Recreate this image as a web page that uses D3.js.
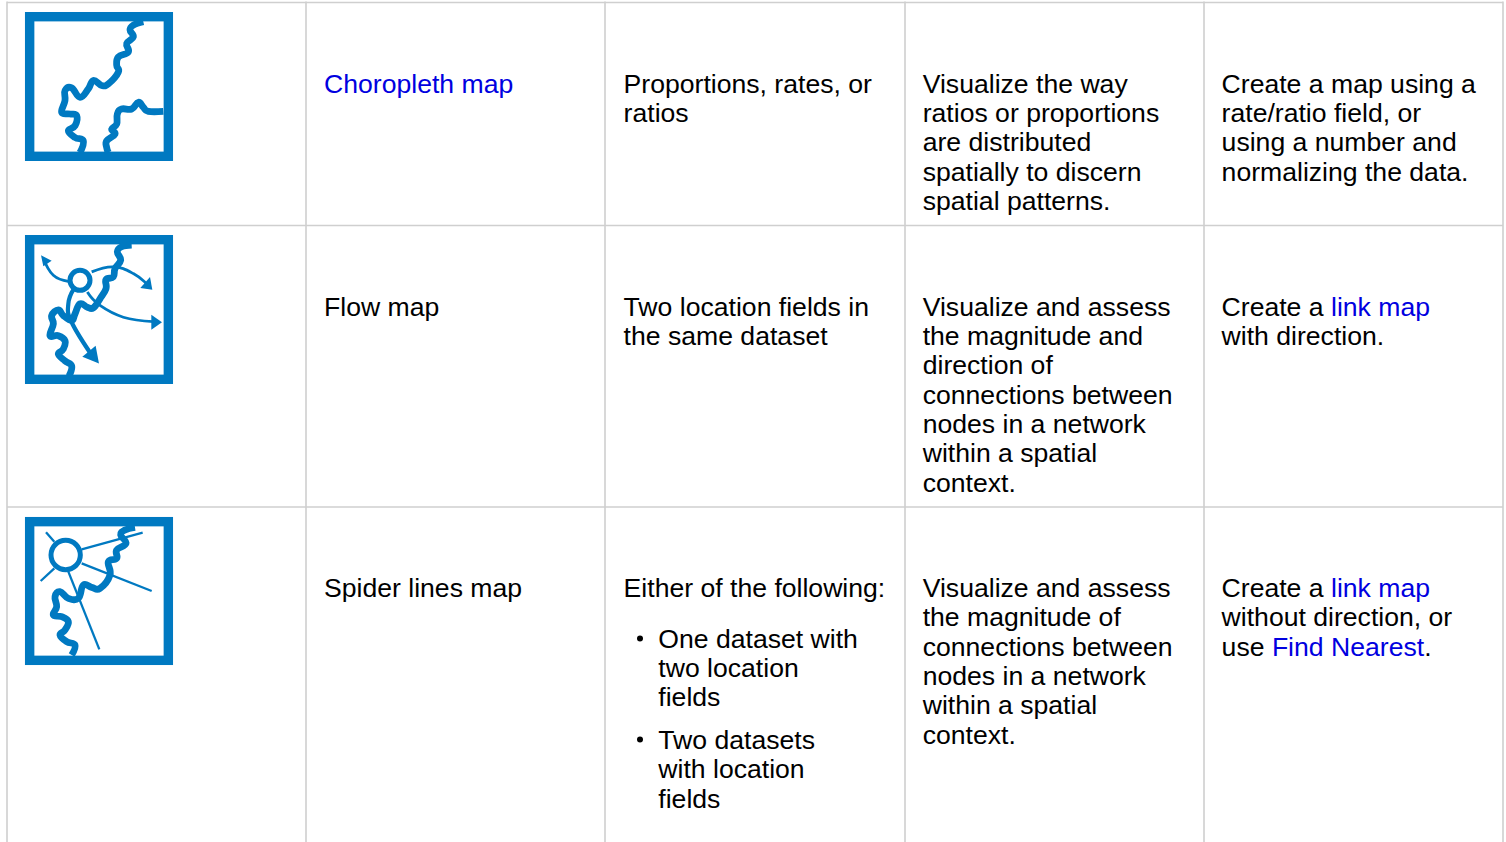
<!DOCTYPE html>
<html><head><meta charset="utf-8">
<script src="https://cdn.jsdelivr.net/npm/d3@7/dist/d3.min.js"></script>
<style>html,body{margin:0;padding:0;background:#fff;overflow:hidden}svg{display:block}text{font-family:"Liberation Sans",Arial,sans-serif;font-size:26.6px;fill:#000}</style>
</head><body><script>
// text content: each row is a list of columns, each a list of lines, each a list of [text, isLink]
const col1 = [
  [[["Choropleth map",1]]],
  [[["Flow map",0]]],
  [[["Spider lines map",0]]]
];
const col2 = [
  [[["Proportions, rates, or",0]],[["ratios",0]]],
  [[["Two location fields in",0]],[["the same dataset",0]]],
  [[["Either of the following:",0]]]
];
const col3 = [
  ["Visualize the way","ratios or proportions","are distributed","spatially to discern","spatial patterns."],
  ["Visualize and assess","the magnitude and","direction of","connections between","nodes in a network","within a spatial","context."],
  ["Visualize and assess","the magnitude of","connections between","nodes in a network","within a spatial","context."]
].map(r=>r.map(l=>[[l,0]]));
const col4 = [
  [[["Create a map using a",0]],[["rate/ratio field, or",0]],[["using a number and",0]],[["normalizing the data.",0]]],
  [[["Create a ",0],["link map",1]],[["with direction.",0]]],
  [[["Create a ",0],["link map",1]],[["without direction, or",0]],[["use ",0],["Find Nearest",1],[".",0]]]
];
const listItems = [["One dataset with","two location","fields"],["Two datasets","with location","fields"]];
const columns = [col1,col2,col3,col4];

// layout
const colEdges = [7,306,605,905,1204,1503];
const textX = [324,623.6,922.7,1221.6];
const rowEdges = [2.5,225.5,507,842];
const rowBaselines = [92.85,315.85,597.1];
const listBaselines = [647.7,749.1];
const lineHeight = 29.3, listX = 658.3, bulletX = 640;

// icons, in a 444-unit icon grid
const river1a = [[355,29],[325,39],[315,54],[325,74],[305,94],[310,119],[280,134],[275,159],[280,179],[250,214],[230,219],[205,204],[190,229],[165,254],[140,226],[120,234],[120,264],[110,299],[135,304],[155,309],[150,339],[130,354],[150,374],[175,384],[165,419]];
const river1b = [[415,296],[370,296],[355,284],[340,269],[320,289],[290,289],[277,304],[275,334],[260,349],[270,364],[245,384],[245,404],[250,419]];
const river2 = [[320,30],[290,35],[277,50],[287,75],[270,100],[265,125],[243,133],[243,160],[225,190],[205,217],[187,215],[165,205],[150,235],[140,255],[115,240],[100,223],[80,240],[85,265],[75,300],[100,300],[120,315],[115,340],[100,355],[120,375],[140,390],[132,420]];
const flows2 = [
  [[130,138],[85,120],[55,70]],
  [[200,110],[265,95],[325,115],[372,152]],
  [[187,170],[225,210],[295,245],[385,258]]
];
const mainFlow2 = [[147,160],[130,205],[140,260],[205,365]];
const heads2 = [
  [[48,60],[80,77],[55,93]],
  [[382,163],[346,158],[375,125]],
  [[411,260],[379,238],[379,282]],
  [[222,383],[172,363],[212,330]]
];
const node2 = {c:[165,135], r:30};
const river3 = [[330,31],[300,39],[287,54],[303,79],[275,99],[275,124],[250,134],[255,174],[225,214],[200,211],[175,204],[160,244],[130,244],[105,224],[90,239],[95,269],[85,294],[110,299],[130,314],[120,339],[105,354],[125,374],[150,384],[140,414]];
const rays3 = [
  [[88,74],[63,46]],
  [[170,97],[353,47]],
  [[170,139],[380,222]],
  [[130,164],[223,397]],
  [[88,154],[47,192]]
];
const node3 = {c:[122,114], r:44};
const iconTops = [12,235,517];
const iconHeights = [149,149,148];

const svg = d3.select("body").append("svg").attr("width",1506).attr("height",842);
const BLUE="#0079c1", GRID="#cfcfcf", LINK="#0000e0";
svg.append("defs").append("filter").attr("id","soft").attr("x","-5%").attr("y","-5%").attr("width","110%").attr("height","110%")
  .append("feGaussianBlur").attr("stdDeviation",0.45);

svg.append("g").selectAll("line").data(colEdges).join("line")
  .attr("x1",d=>d).attr("x2",d=>d).attr("y1",rowEdges[0]-1).attr("y2",842)
  .attr("stroke",GRID).attr("stroke-width",1.6);
svg.append("g").selectAll("line").data(rowEdges.slice(0,3)).join("line")
  .attr("x1",colEdges[0]).attr("x2",colEdges[5]).attr("y1",d=>d).attr("y2",d=>d)
  .attr("stroke",GRID).attr("stroke-width",1.6);

function putLine(g,segs,x,y){
  const t=g.append("text").attr("x",x).attr("y",y).attr("xml:space","preserve");
  t.selectAll("tspan").data(segs).join("tspan").style("white-space","pre").style("fill",d=>d[1]?LINK:"#000").text(d=>d[0]);
}
const tg=svg.append("g");
columns.forEach((col,c)=>col.forEach((cell,r)=>cell.forEach((line,i)=>
  putLine(tg,line,textX[c],rowBaselines[r]+i*lineHeight))));
listItems.forEach((item,k)=>{
  tg.append("circle").attr("cx",bulletX).attr("cy",Math.round(listBaselines[k])-9.5).attr("r",3).attr("fill","#000");
  item.forEach((l,i)=>putLine(tg,[[l,0]],listX,listBaselines[k]+i*lineHeight));
});

const sx=d3.scaleLinear().domain([0,444]).range([25,173]);
function icon(idx,build){
  const sy=d3.scaleLinear().domain([0,444]).range([0,iconHeights[idx]]);
  const curve=d3.line().x(d=>sx(d[0])).y(d=>sy(d[1])).curve(d3.curveCardinal.tension(-0.25));
  const poly=d3.line().x(d=>sx(d[0])).y(d=>sy(d[1])).curve(d3.curveLinearClosed);
  const g=svg.append("g").attr("transform",`translate(0,${iconTops[idx]})`).attr("filter","url(#soft)");
  g.append("rect").attr("x",sx(14)).attr("y",sy(14)).attr("width",sx(430)-sx(14)).attr("height",sy(430)-sy(14))
    .attr("fill","#fff").attr("stroke",BLUE).attr("stroke-width",9.4);
  build({
    g,
    stroke:(pts,w)=>g.append("path").attr("d",curve(pts)).attr("fill","none").attr("stroke",BLUE).attr("stroke-width",w),
    head:h=>g.append("path").attr("d",poly(h)).attr("fill",BLUE),
    node:(n,w)=>g.append("circle").attr("cx",sx(n.c[0])).attr("cy",sy(n.c[1])).attr("r",sx(n.r)-sx(0)).attr("fill","#fff").attr("stroke",BLUE).attr("stroke-width",w)
  });
}
const RIVER=6.8;
icon(0,k=>{k.stroke(river1a,RIVER);k.stroke(river1b,RIVER);});
icon(1,k=>{
  flows2.forEach(f=>k.stroke(f,2.8));
  k.stroke(mainFlow2,4.2);
  k.stroke(river2,RIVER);
  heads2.forEach(k.head);
  k.node(node2,5);
});
icon(2,k=>{
  rays3.forEach(f=>k.stroke(f,2.3));
  k.stroke(river3,RIVER);
  k.node(node3,5);
});
</script></body></html>
